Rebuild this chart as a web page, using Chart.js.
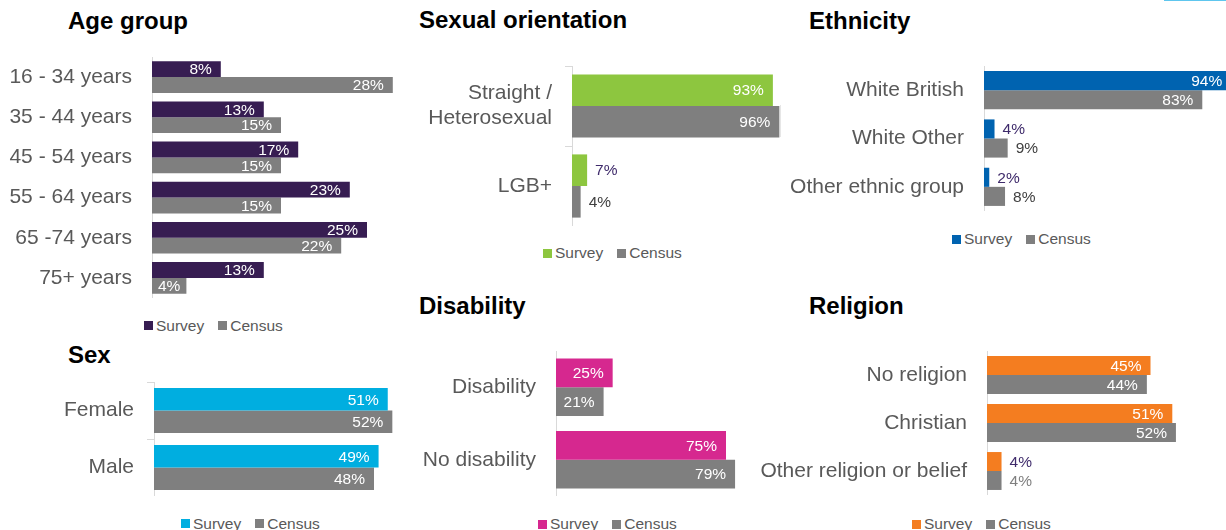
<!DOCTYPE html>
<html>
<head>
<meta charset="utf-8">
<script src="https://cdn.jsdelivr.net/npm/chart.js@4.4.1/dist/chart.umd.min.js"></script>
<style>
    html, body {
        margin: 0;
        padding: 0;
        background: #fff;
    }
    body {
        position: relative;
        width: 1226px;
        height: 530px;
        overflow: hidden;
        font-family: 'Liberation Sans', Arial, sans-serif;
    }
    canvas {
        position: absolute;
    }
    .title {
        position: absolute;
        font-size: 24px;
        line-height: 24px;
        font-weight: bold;
        color: #000;
        white-space: nowrap;
    }
    .legend {
        position: absolute;
        display: flex;
        align-items: center;
        height: 16px;
        font-size: 15.5px;
        color: #595959;
        white-space: nowrap;
    }
    .key {
        display: inline-block;
        width: 9px;
        height: 9px;
        margin-right: 3px;
    }
    .mark {
        position: absolute;
    }
</style>
</head>
<body>
<div class="mark" style="left:1164px;top:0;width:62px;height:1px;background:#5ec6ee"></div>
<div class="mark" style="left:780px;top:105px;width:1px;height:32px;background:#e6e6e6"></div>
<script>
const seriesNames = ['Survey', 'Census']
const censusColor = '#7F7F7F'

const ageGroups = ['16 - 34 years', '35 - 44 years', '45 - 54 years', '55 - 64 years', '65 -74 years', '75+ years']
const ageSurvey = [8, 13, 17, 23, 25, 13]
const ageCensus = [28, 15, 15, 15, 22, 4]

const orientations = [['Straight /', 'Heterosexual'], 'LGB+']
const orientationSurvey = [93, 7]
const orientationCensus = [96, 4]

const ethnicities = ['White British', 'White Other', 'Other ethnic group']
const ethnicitySurvey = [94, 4, 2]
const ethnicityCensus = [83, 9, 8]

const sexes = ['Female', 'Male']
const sexSurvey = [51, 49]
const sexCensus = [52, 48]

const disabilities = ['Disability', 'No disability']
const disabilitySurvey = [25, 75]
const disabilityCensus = [21, 79]

const religions = ['No religion', 'Christian', 'Other religion or belief']
const religionSurvey = [45, 51, 4]
const religionCensus = [44, 52, 4]

const fontFamily = "'Liberation Sans', Arial, sans-serif"

// layout of each little chart on the page
const panels = [
    {title: 'Age group', labels: ageGroups, survey: ageSurvey, census: ageCensus, color: '#371D52',
        left: 0, axisX: 152, top: 57, bottom: 298, pxPer: 8.6, max: 30, ticks: false,
        titleX: 68, titleY: 9, legendX: 144, legendY: 325.5, outside: ['#3F2B6B', '#404040']},
    {title: 'Sexual orientation', labels: orientations, survey: orientationSurvey, census: orientationCensus, color: '#8DC63F',
        left: 380, axisX: 572, top: 66, bottom: 226, pxPer: 2.16, max: 100, ticks: true,
        titleX: 419, titleY: 8, legendX: 543, legendY: 253, outside: ['#3F2B6B', '#404040']},
    {title: 'Ethnicity', labels: ethnicities, survey: ethnicitySurvey, census: ethnicityCensus, color: '#0063B0',
        left: 780, axisX: 984, top: 66, bottom: 211, pxPer: 2.634, max: 100, ticks: false,
        titleX: 809, titleY: 9, legendX: 952, legendY: 239, outside: ['#3F2B6B', '#404040']},
    {title: 'Sex', labels: sexes, survey: sexSurvey, census: sexCensus, color: '#00AEE0',
        left: 0, axisX: 154, top: 382, bottom: 496, pxPer: 4.58, max: 60, ticks: true,
        titleX: 68, titleY: 343, legendX: 181, legendY: 523.5, outside: ['#3F2B6B', '#404040']},
    {title: 'Disability', labels: disabilities, survey: disabilitySurvey, census: disabilityCensus, color: '#D6288F',
        left: 380, axisX: 556, top: 351, bottom: 496, pxPer: 2.27, max: 90, ticks: false,
        titleX: 419, titleY: 294, legendX: 538, legendY: 524, outside: ['#3F2B6B', '#404040']},
    {title: 'Religion', labels: religions, survey: religionSurvey, census: religionCensus, color: '#F47D20',
        left: 740, axisX: 987, top: 351, bottom: 495, pxPer: 3.64, max: 60, ticks: false,
        titleX: 809, titleY: 294, legendX: 912, legendY: 524, outside: ['#3F2B6B', '#7F7F7F']},
]

// value labels: inside the bar end in white, or just past it when the bar is too short
const barLabels = {
    id: 'barLabels',
    afterDatasetsDraw(chart, args, opts) {
        const {ctx} = chart
        ctx.save()
        ctx.font = `15.5px ${fontFamily}`
        ctx.textBaseline = 'middle'
        chart.data.datasets.forEach((ds, i) => {
            chart.getDatasetMeta(i).data.forEach((bar, j) => {
                const text = ds.data[j] + '%'
                const tw = ctx.measureText(text).width
                const len = bar.x - bar.base
                if (len >= tw + 10) {
                    ctx.fillStyle = '#fff'
                    ctx.textAlign = 'right'
                    ctx.fillText(text, Math.max(bar.x - 9, bar.base + 6 + tw), bar.y + 1)
                } else {
                    ctx.fillStyle = opts.outside[i]
                    ctx.textAlign = 'left'
                    ctx.fillText(text, bar.x + 8, bar.y + 1)
                }
            })
        })
        ctx.restore()
    }
}

const addTitle = (p) => {
    const el = document.createElement('div')
    el.className = 'title'
    el.style.left = p.titleX + 'px'
    el.style.top = p.titleY + 'px'
    el.textContent = p.title
    document.body.appendChild(el)
}

const addLegend = (p) => {
    const el = document.createElement('div')
    el.className = 'legend'
    el.style.left = p.legendX + 'px'
    el.style.top = (p.legendY - 8) + 'px'
    const colors = [p.color, censusColor]
    seriesNames.forEach((name, i) => {
        const key = document.createElement('span')
        key.className = 'key'
        key.style.background = colors[i]
        if (i > 0) key.style.marginLeft = '14px'
        el.appendChild(key)
        el.appendChild(document.createTextNode(name))
    })
    document.body.appendChild(el)
}

const addChart = (p) => {
    const axisWidth = p.axisX - p.left
    const width = Math.round(axisWidth + p.max * p.pxPer)
    const height = p.bottom - p.top

    const canvas = document.createElement('canvas')
    canvas.width = width
    canvas.height = height
    canvas.style.left = p.left + 'px'
    canvas.style.top = p.top + 'px'
    canvas.style.width = width + 'px'
    canvas.style.height = height + 'px'
    document.body.appendChild(canvas)

    new Chart(canvas, {
        type: 'bar',
        data: {
            labels: p.labels,
            datasets: [
                {
                    label: seriesNames[0],
                    data: p.survey,
                    backgroundColor: p.color,
                    categoryPercentage: 0.79,
                    barPercentage: 1,
                },
                {
                    label: seriesNames[1],
                    data: p.census,
                    backgroundColor: censusColor,
                    categoryPercentage: 0.79,
                    barPercentage: 1,
                }
            ]
        },
        options: {
            indexAxis: 'y',
            responsive: false,
            animation: false,
            events: [],
            devicePixelRatio: 1,
            layout: {padding: 0},
            plugins: {
                legend: {display: false},
                tooltip: {enabled: false},
                barLabels: {outside: p.outside},
            },
            scales: {
                x: {display: false, min: 0, max: p.max},
                y: {
                    offset: true,
                    grid: {
                        display: p.ticks,
                        drawOnChartArea: false,
                        drawTicks: true,
                        tickLength: 7,
                        color: '#D9D9D9',
                        offset: true,
                    },
                    border: {display: true, color: '#D9D9D9', width: 1},
                    ticks: {
                        // tick length (7) + padding keeps labels 20px off the axis
                        padding: 13,
                        color: '#595959',
                        autoSkip: false,
                        font: {family: fontFamily, size: 21, lineHeight: 1.2},
                    },
                    afterFit: (scale) => {
                        scale.width = axisWidth
                        scale.paddingTop = 0
                        scale.paddingBottom = 0
                    }
                }
            }
        },
        plugins: [barLabels]
    })
}

panels.forEach((p) => {
    addTitle(p)
    addChart(p)
    addLegend(p)
})
</script>
</body>
</html>
